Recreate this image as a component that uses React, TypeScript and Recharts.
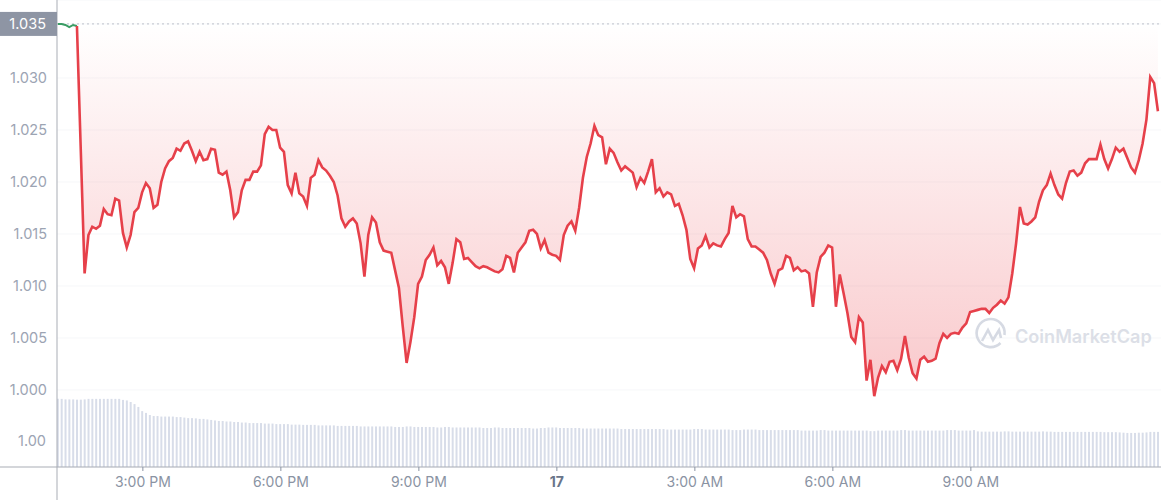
import React from "react";
import { ComposedChart, Area, Line, Bar, XAxis, YAxis, CartesianGrid, ReferenceLine } from "recharts";

const prices = [
  1.0352,1.0352,1.0351,1.0349,1.0351,1.0350,1.0231,1.0112,1.0149,1.0157,1.0155,1.0158,
  1.0174,1.0169,1.0168,1.0184,1.0182,1.0151,1.0137,1.0149,1.0171,1.0175,1.0190,1.0199,
  1.0194,1.0175,1.0178,1.0200,1.0213,1.0220,1.0223,1.0232,1.0230,1.0237,1.0239,1.0230,
  1.0220,1.0229,1.0221,1.0222,1.0232,1.0231,1.0209,1.0207,1.0210,1.0192,1.0166,1.0171,
  1.0192,1.0202,1.0202,1.0210,1.0210,1.0216,1.0246,1.0253,1.0250,1.0250,1.0233,1.0229,
  1.0197,1.0189,1.0209,1.0189,1.0186,1.0177,1.0204,1.0207,1.0221,1.0214,1.0211,1.0206,
  1.0200,1.0187,1.0165,1.0157,1.0162,1.0165,1.0160,1.0141,1.0109,1.0149,1.0166,1.0161,
  1.0142,1.0134,1.0133,1.0132,1.0115,1.0098,1.0061,1.0026,1.0046,1.0070,1.0102,1.0109,
  1.0125,1.0130,1.0137,1.0120,1.0124,1.0118,1.0102,1.0122,1.0145,1.0142,1.0126,1.0127,
  1.0123,1.0119,1.0117,1.0119,1.0118,1.0116,1.0114,1.0113,1.0116,1.0129,1.0127,1.0113,
  1.0132,1.0137,1.0142,1.0153,1.0154,1.0150,1.0136,1.0144,1.0132,1.0130,1.0129,1.0125,
  1.0149,1.0158,1.0162,1.0153,1.0175,1.0204,1.0224,1.0237,1.0254,1.0245,1.0243,1.0217,
  1.0232,1.0228,1.0219,1.0211,1.0215,1.0212,1.0209,1.0195,1.0204,1.0199,1.0210,1.0222,
  1.0190,1.0194,1.0186,1.0190,1.0188,1.0177,1.0179,1.0168,1.0154,1.0126,1.0117,1.0136,
  1.0139,1.0148,1.0137,1.0141,1.0139,1.0138,1.0145,1.0151,1.0177,1.0166,1.0169,1.0167,
  1.0145,1.0138,1.0138,1.0135,1.0132,1.0125,1.0112,1.0102,1.0115,1.0117,1.0129,1.0127,
  1.0115,1.0118,1.0114,1.0115,1.0112,1.0080,1.0113,1.0128,1.0132,1.0139,1.0137,1.0080,
  1.0111,1.0093,1.0074,1.0051,1.0046,1.0070,1.0065,1.0009,1.0029,0.9994,1.0012,1.0023,
  1.0017,1.0027,1.0028,1.0019,1.0030,1.0052,1.0031,1.0016,1.0011,1.0029,1.0032,1.0027,
  1.0028,1.0030,1.0045,1.0054,1.0050,1.0054,1.0055,1.0054,1.0060,1.0064,1.0075,1.0076,
  1.0077,1.0078,1.0078,1.0074,1.0079,1.0082,1.0086,1.0083,1.0089,1.0112,1.0141,1.0176,
  1.0160,1.0159,1.0162,1.0166,1.0181,1.0192,1.0197,1.0208,1.0197,1.0188,1.0184,1.0199,
  1.0210,1.0211,1.0206,1.0209,1.0218,1.0222,1.0222,1.0222,1.0236,1.0222,1.0213,1.0222,
  1.0233,1.0229,1.0232,1.0223,1.0214,1.0209,1.0221,1.0237,1.0260,1.0301,1.0295,1.0268,
];

const volumes = [
  2.62,2.62,2.60,2.60,2.60,2.59,2.59,2.60,2.62,2.62,2.62,2.62,
  2.62,2.62,2.62,2.62,2.62,2.58,2.56,2.50,2.42,2.31,2.15,2.08,
  2.00,1.96,1.96,1.94,1.94,1.94,1.94,1.92,1.92,1.90,1.88,1.88,
  1.87,1.85,1.85,1.83,1.81,1.79,1.77,1.77,1.75,1.75,1.73,1.73,
  1.71,1.71,1.69,1.69,1.69,1.69,1.67,1.67,1.67,1.65,1.65,1.65,
  1.65,1.63,1.63,1.63,1.62,1.62,1.62,1.62,1.60,1.60,1.60,1.60,
  1.60,1.58,1.58,1.58,1.58,1.58,1.58,1.56,1.56,1.56,1.56,1.56,
  1.56,1.56,1.56,1.56,1.54,1.54,1.54,1.56,1.56,1.54,1.54,1.54,
  1.54,1.54,1.54,1.52,1.52,1.54,1.54,1.52,1.52,1.52,1.52,1.52,
  1.52,1.52,1.52,1.50,1.50,1.50,1.52,1.52,1.50,1.50,1.50,1.50,
  1.50,1.50,1.50,1.50,1.48,1.48,1.50,1.50,1.52,1.52,1.52,1.50,
  1.50,1.50,1.50,1.50,1.50,1.48,1.48,1.48,1.48,1.48,1.48,1.48,
  1.48,1.48,1.48,1.46,1.46,1.46,1.46,1.46,1.46,1.46,1.46,1.46,
  1.46,1.46,1.46,1.44,1.44,1.44,1.44,1.44,1.44,1.44,1.46,1.46,
  1.46,1.44,1.44,1.44,1.44,1.44,1.44,1.44,1.42,1.42,1.42,1.44,
  1.44,1.44,1.44,1.42,1.42,1.42,1.42,1.42,1.42,1.42,1.42,1.42,
  1.42,1.42,1.40,1.40,1.40,1.40,1.40,1.42,1.42,1.40,1.40,1.40,
  1.40,1.40,1.40,1.40,1.40,1.40,1.40,1.40,1.38,1.38,1.40,1.40,
  1.40,1.40,1.40,1.40,1.42,1.42,1.40,1.40,1.40,1.40,1.40,1.40,
  1.40,1.40,1.40,1.40,1.42,1.42,1.42,1.40,1.40,1.40,1.40,1.42,
  1.37,1.36,1.36,1.36,1.36,1.36,1.36,1.37,1.37,1.36,1.36,1.36,
  1.36,1.36,1.36,1.36,1.36,1.37,1.36,1.36,1.35,1.35,1.35,1.35,
  1.35,1.35,1.35,1.35,1.35,1.35,1.35,1.35,1.35,1.34,1.34,1.34,
  1.34,1.33,1.32,1.31,1.31,1.31,1.32,1.32,1.33,1.35,1.35,1.35,
];

const openPrice = 1.0352;
const greenPointCount = 6;
const priceTicks = [1.0, 1.005, 1.01, 1.015, 1.02, 1.025, 1.03, openPrice];
const volumeTicks = [1];
const timeTicks = [900, 1080, 1260, 1440, 1620, 1800, 1980];
const timeLabels = ["3:00 PM", "6:00 PM", "9:00 PM", "17", "3:00 AM", "6:00 AM", "9:00 AM"];
const firstMinute = 789;
const stepMinutes = 5;

const rows = prices.map((price, i) => ({
  time: firstMinute + i * stepMinutes,
  price: i >= greenPointCount - 1 ? price : undefined,
  green: i < greenPointCount ? price : undefined,
  range: [openPrice, price],
  volume: volumes[i],
}));

const FONT = "Inter, 'Noto Sans', sans-serif";
const LABEL = "#9ca4b3";

const PriceTick = ({ y, payload }: any) => {
  if (payload.value === openPrice) {
    return (
      <g>
        <rect x={0} y={y - 12} width={57} height={24} fill="#8e95a4" />
        <text x={46} y={y + 5} textAnchor="end" fontFamily={FONT} fontSize={14.5} fill="#ffffff">
          {payload.value.toFixed(3)}
        </text>
      </g>
    );
  }
  return (
    <text x={47} y={y + 5} textAnchor="end" fontFamily={FONT} fontSize={14.5} fill={LABEL}>
      {payload.value.toFixed(3)}
    </text>
  );
};

const VolumeTick = ({ y, payload }: any) => (
  <text x={46} y={y + 5} textAnchor="end" fontFamily={FONT} fontSize={14.5} fill={LABEL}>
    {payload.value.toFixed(2)}
  </text>
);

const TimeTick = ({ x, y, payload }: any) => {
  const label = timeLabels[timeTicks.indexOf(payload.value)];
  const isDay = label === "17";
  return (
    <text
      x={x}
      y={y + 14}
      textAnchor="middle"
      fontFamily={FONT}
      fontSize={14}
      fontWeight={isDay ? 700 : 400}
      fill={isDay ? "#69758a" : "#8a93a3"}
    >
      {label}
    </text>
  );
};

export default function App() {
  return (
    <div style={{ position: "absolute", left: 0, top: 0, width: 1161, height: 500, background: "#fff" }}>
      <ComposedChart
        width={1161}
        height={500}
        data={rows}
        margin={{ top: 0, right: 0, bottom: 0, left: 0 }}
      >
        <defs>
          <linearGradient id="lossFill" x1="0" y1="0" x2="0" y2="1">
            <stop offset="0" stopColor="#ea3943" stopOpacity={0} />
            <stop offset="1" stopColor="#ea3943" stopOpacity={0.46} />
          </linearGradient>
        </defs>
        <CartesianGrid yAxisId="price" xAxisId={0} vertical={false} stroke="#f6f7f9" />
        <XAxis
          xAxisId={0}
          dataKey="time"
          type="number"
          domain={[788, 2228]}
          ticks={timeTicks}
          height={33}
          interval={0}
          allowDataOverflow
          tickSize={4}
          tick={<TimeTick />}
          tickLine={{ stroke: "#8a93a3" }}
          axisLine={{ stroke: "#a9adb5" }}
        />
        <YAxis
          yAxisId="price"
          width={57}
          domain={[0.99259, 1.0375]}
          ticks={priceTicks}
          interval={0}
          allowDataOverflow
          tickLine={false}
          tick={<PriceTick />}
          axisLine={{ stroke: "#a9adb5" }}
        />
        <YAxis
          yAxisId="volume"
          mirror
          domain={[0, 17.96]}
          ticks={volumeTicks}
          interval={0}
          allowDataOverflow
          tickLine={false}
          axisLine={false}
          tick={<VolumeTick />}
        />
        <g>
          <path
            d="M1000.5 343 A14 14 0 1 1 1004.5 335"
            fill="none"
            stroke="#d6dae3"
            strokeWidth={2.6}
          />
          <path
            d="M982 341 L988 330 L993 340 L999 330 L1001 338"
            fill="none"
            stroke="#d6dae3"
            strokeWidth={2.6}
          />
          <text x={1015} y={342.5} fontFamily={FONT} fontSize={18.1} fontWeight={600} fill="#dcdfe7">
            CoinMarketCap
          </text>
        </g>
        <Bar yAxisId="volume" dataKey="volume" fill="#d8dde9" barSize={2} isAnimationActive={false} />
        <ReferenceLine yAxisId="price" y={openPrice} stroke="#bcc1cb" strokeDasharray="2 3" />
        <Area
          yAxisId="price"
          dataKey="range"
          type="linear"
          stroke="none"
          fill="url(#lossFill)"
          isAnimationActive={false}
          dot={false}
          activeDot={false}
        />
        <Line
          yAxisId="price"
          dataKey="green"
          type="linear"
          stroke="#3a9d64"
          strokeWidth={2}
          dot={false}
          activeDot={false}
          isAnimationActive={false}
        />
        <Line
          yAxisId="price"
          dataKey="price"
          type="linear"
          stroke="#e6404a"
          strokeWidth={2.6}
          dot={false}
          activeDot={false}
          isAnimationActive={false}
        />
        <line x1={0} y1={467} x2={57} y2={467} stroke="#a9adb5" />
        <line x1={57} y1={467} x2={57} y2={500} stroke="#a9adb5" />
      </ComposedChart>
    </div>
  );
}
